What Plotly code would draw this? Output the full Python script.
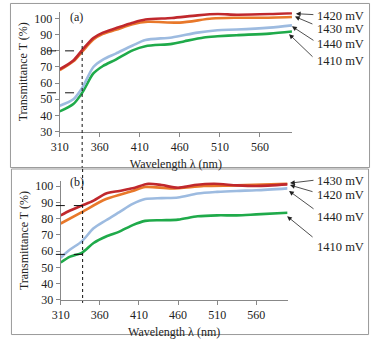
import plotly.graph_objects as go

W, H = 371, 343

# ---------------- data ----------------
# panel (a)
a_red_x = [310, 327, 338, 352, 364, 380, 401, 417, 450, 482, 507, 531, 572, 600]
a_red_y = [68.6, 74, 80.5, 88, 91.3, 94, 97.4, 99.4, 100.4, 102, 102.8, 102.4, 102.8, 103.4]
a_org_x = [310, 327, 338, 352, 364, 380, 401, 420, 460, 500, 530, 560, 600]
a_org_y = [68, 73.5, 79.5, 87, 90.5, 93, 96.5, 98, 97.5, 100, 100.5, 100.5, 101]
a_blu_x = [310, 327, 338, 352, 364, 380, 401, 417, 450, 482, 507, 531, 572, 600]
a_blu_y = [46, 50, 57, 70, 74.6, 78.3, 83.3, 86.7, 88.3, 91.3, 92.8, 93.2, 94.4, 95.8]
a_grn_x = [310, 327, 338, 352, 364, 380, 401, 417, 450, 466, 490, 507, 531, 572, 600]
a_grn_y = [42.5, 47, 54, 66, 70.6, 74.6, 80.3, 82.9, 84.3, 86, 88.3, 89, 89.7, 90.7, 92]

# panel (b)
b_red_x = [310, 322, 337, 352, 368, 385, 402, 422, 439, 460, 481, 506, 535, 560, 600]
b_red_y = [82, 85, 88, 91, 95.4, 97, 98.6, 101.4, 100.6, 99, 100.6, 101.4, 100.4, 100, 101]
b_org_x = [310, 337, 368, 402, 418, 452, 493, 535, 600]
b_org_y = [77, 84, 92, 97, 99.4, 98.6, 100, 100.4, 101.4]
b_blu_x = [310, 322, 337, 352, 368, 385, 402, 418, 439, 460, 485, 510, 535, 560, 600]
b_blu_y = [56, 61, 66, 74, 79, 84, 89, 92, 92.6, 93, 95.4, 96.4, 97, 97.4, 98.6]
b_grn_x = [310, 322, 337, 352, 368, 385, 402, 418, 439, 460, 485, 510, 535, 560, 600]
b_grn_y = [53, 56.6, 59, 65, 69, 72, 76, 78.6, 79, 79.4, 81.4, 82, 82, 82.6, 83.6]

x_ticks = [310, 360, 410, 460, 510, 560]
y_ticks = [30, 40, 50, 60, 70, 80, 90, 100]

a_labels = ["1420 mV", "1430 mV", "1440 mV", "1410 mV"]
b_labels = ["1430 mV", "1420 mV", "1440 mV", "1410 mV"]

cut_wl = 338
a_marks = [80, 54]
b_marks = [88, 58]

RED, ORG, BLU, GRN = "#C0282D", "#E8782A", "#9DBBE0", "#1FAA4A"

# ---------------- layout geometry (pixels) ----------------
XR = [310, 600]
YRA = [30, 104]
YRB = [30, 103]
A_X = (52, 290); A_Y = (10.4, 133)   # left,right ; top,bottom px
B_X = (53, 285.5); B_Y = (184, 306)


def dom_x(px):
    return [px[0] / W, px[1] / W]


def dom_y(py):
    return [1 - py[1] / H, 1 - py[0] / H]


def to_px_x(v, px):
    return px[0] + (v - XR[0]) / (XR[1] - XR[0]) * (px[1] - px[0])


def to_px_y(v, py, yr):
    return py[1] - (v - yr[0]) / (yr[1] - yr[0]) * (py[1] - py[0])


def pap_x(p):
    return p / W


def pap_y(p):
    return 1 - p / H


fig = go.Figure()
for xs, ys, c, ax in [
    (a_grn_x, a_grn_y, GRN, 1), (a_blu_x, a_blu_y, BLU, 1),
    (a_org_x, a_org_y, ORG, 1), (a_red_x, a_red_y, RED, 1),
    (b_grn_x, b_grn_y, GRN, 2), (b_blu_x, b_blu_y, BLU, 2),
    (b_org_x, b_org_y, ORG, 2), (b_red_x, b_red_y, RED, 2),
]:
    fig.add_trace(go.Scatter(
        x=xs, y=ys, mode="lines",
        line=dict(color=c, width=2.6, shape="spline", smoothing=0.8),
        xaxis="x" if ax == 1 else "x2", yaxis="y" if ax == 1 else "y2",
        showlegend=False, hoverinfo="skip"))

font_t = dict(family="Liberation Serif", size=12, color="#222")
axis_common = dict(
    showgrid=False, zeroline=False, showline=True, linecolor="#888", linewidth=1,
    ticks="outside", ticklen=4, tickcolor="#888", tickfont=font_t, fixedrange=True)

fig.update_layout(
    width=W, height=H, margin=dict(l=0, r=0, t=0, b=0),
    paper_bgcolor="white", plot_bgcolor="white",
    xaxis=dict(domain=dom_x(A_X), range=XR, tickvals=x_ticks, anchor="y",
               title=dict(text="Wavelength λ (nm)", font=font_t, standoff=6), **axis_common),
    yaxis=dict(domain=dom_y(A_Y), range=YRA, tickvals=y_ticks, anchor="x",
               title=dict(text="Transmittance T (%)", font=font_t, standoff=4), **axis_common),
    xaxis2=dict(domain=dom_x(B_X), range=XR, tickvals=x_ticks, anchor="y2",
                title=dict(text="Wavelength λ (nm)", font=font_t, standoff=6), **axis_common),
    yaxis2=dict(domain=dom_y(B_Y), range=YRB, tickvals=y_ticks, anchor="x2",
                title=dict(text="Transmittance T (%)", font=font_t, standoff=4), **axis_common),
)

shapes = []
# panel frames
shapes.append(dict(type="rect", xref="paper", yref="paper", x0=pap_x(1.5), x1=pap_x(369.5),
                   y0=pap_y(170), y1=pap_y(1.5), line=dict(color="#999", width=1)))
shapes.append(dict(type="rect", xref="paper", yref="paper", x0=pap_x(2.5), x1=pap_x(368.5),
                   y0=pap_y(341.5), y1=pap_y(171.5), line=dict(color="#999", width=1)))
# vertical dotted cut line through both panels
vx_a = to_px_x(cut_wl, A_X)
vx_b = to_px_x(cut_wl, B_X)
shapes.append(dict(type="line", xref="paper", yref="paper", x0=pap_x(vx_a), x1=pap_x(vx_a),
                   y0=pap_y(39), y1=pap_y(170), line=dict(color="#111", width=1, dash="dot")))
shapes.append(dict(type="line", xref="paper", yref="paper", x0=pap_x(vx_b), x1=pap_x(vx_b),
                   y0=pap_y(171.5), y1=pap_y(309), line=dict(color="#111", width=1, dash="dot")))
# horizontal dashed marks
for v in a_marks:
    yp = to_px_y(v, A_Y, YRA)
    shapes.append(dict(type="line", xref="paper", yref="paper", x0=pap_x(39), x1=pap_x(vx_a),
                       y0=pap_y(yp), y1=pap_y(yp), line=dict(color="#111", width=1, dash="dash")))
for v in b_marks:
    yp = to_px_y(v, B_Y, YRB)
    shapes.append(dict(type="line", xref="paper", yref="paper", x0=pap_x(48), x1=pap_x(vx_b),
                       y0=pap_y(yp), y1=pap_y(yp), line=dict(color="#111", width=1, dash="dash")))
fig.update_layout(shapes=shapes)

ann = []
font_l = dict(family="Liberation Serif", size=12.5, color="#222")
ann.append(dict(xref="paper", yref="paper", x=pap_x(60), y=pap_y(15), text="(a)",
                showarrow=False, xanchor="left", yanchor="middle", font=font_t))
ann.append(dict(xref="paper", yref="paper", x=pap_x(60), y=pap_y(185), text="(b)",
                showarrow=False, xanchor="left", yanchor="middle", font=font_t))

# labels: (text_y_px, tail(x,y), head(x,y))
a_geo = [(14, (313, 13), (294, 12)), (28, (312, 23), (293, 15)),
         (43, (313, 40), (290, 25)), (61, (312, 57), (287, 33))]
b_geo = [(184, (313, 183), (288, 186)), (198, (312, 195), (288, 188)),
         (221, (313, 213), (287, 194)), (252, (312, 242), (285, 220))]
for labels, geo in [(a_labels, a_geo), (b_labels, b_geo)]:
    for lab, (ty, tail, head) in zip(labels, geo):
        ann.append(dict(xref="paper", yref="paper", x=pap_x(314), y=pap_y(ty), text=lab,
                        showarrow=False, xanchor="left", yanchor="middle", font=font_l))
        ann.append(dict(xref="paper", yref="paper", x=pap_x(head[0]), y=pap_y(head[1]), text="",
                        showarrow=True, axref="pixel", ayref="pixel",
                        ax=tail[0] - head[0], ay=tail[1] - head[1],
                        arrowhead=2, arrowsize=1.2, arrowwidth=0.8, arrowcolor="#222"))
fig.update_layout(annotations=ann)

fig.write_html("out.html")
